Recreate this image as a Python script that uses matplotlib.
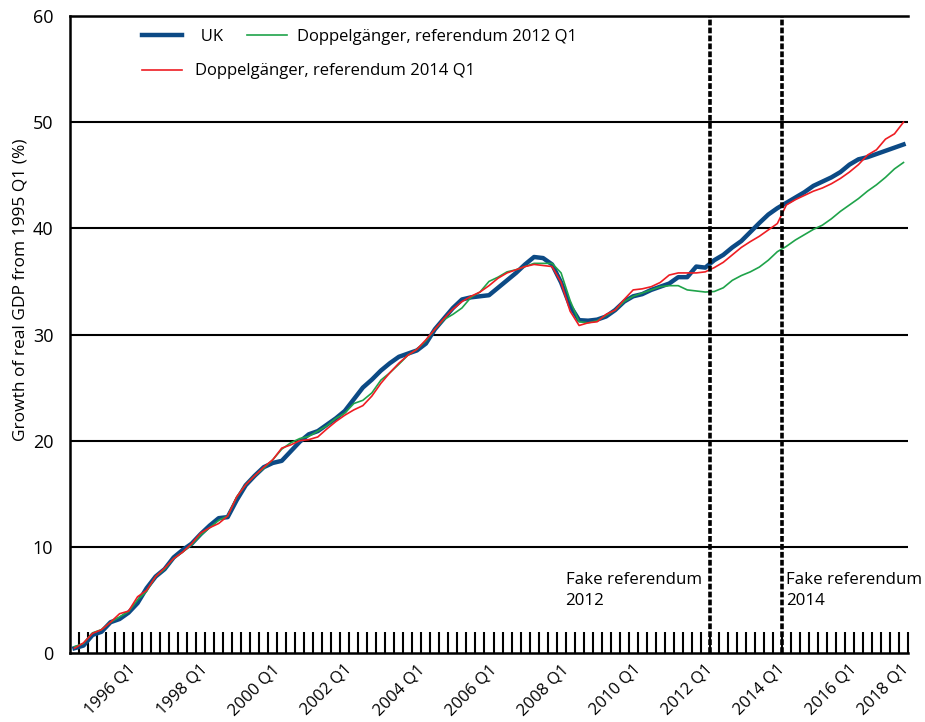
import matplotlib
matplotlib.use("Agg")
import matplotlib.pyplot as plt
import matplotlib.transforms as mtransforms
from matplotlib.ticker import FixedLocator, NullFormatter

plt.rcParams['font.family'] = ['Open Sans', 'DejaVu Sans']

# growth of real GDP since 1995 Q1 (%), one value per quarter 1995 Q1 .. 2018 Q1
uk = [0.45, 0.7, 1.7, 2.0, 2.9, 3.2, 3.8, 4.7, 6.1, 7.2,
      7.9, 9.0, 9.7, 10.3, 11.2, 12.0, 12.7, 12.8, 14.4, 15.8,
      16.7, 17.5, 17.9, 18.1, 19.0, 19.9, 20.6, 20.9, 21.5, 22.1,
      22.8, 23.9, 25.0, 25.75, 26.6, 27.3, 27.9, 28.2, 28.5, 29.15,
      30.5, 31.5, 32.5, 33.3, 33.5, 33.6, 33.7, 34.4, 35.1, 35.8,
      36.6, 37.3, 37.2, 36.6, 34.9, 32.7, 31.35, 31.3, 31.4, 31.7,
      32.3, 33.1, 33.6, 33.8, 34.2, 34.5, 34.8, 35.4, 35.4, 36.4,
      36.3, 37.0, 37.5, 38.2, 38.8, 39.65, 40.5, 41.3, 41.9, 42.4,
      42.9, 43.4, 44.0, 44.4, 44.8, 45.3, 46.0, 46.5, 46.7, 47.0,
      47.3, 47.6, 47.9]

dopp_2012 = [0.6, 0.9, 1.9, 2.2, 2.9, 3.4, 3.9, 5.0, 5.8, 7.2,
             7.9, 8.9, 9.5, 10.2, 11.1, 11.8, 12.5, 12.9, 14.7, 15.85,
             16.7, 17.4, 18.2, 19.2, 19.8, 20.2, 20.4, 20.9, 21.4, 22.1,
             22.6, 23.5, 23.8, 24.5, 25.7, 26.4, 27.2, 28.05, 28.6, 29.4,
             30.5, 31.4, 31.9, 32.5, 33.5, 34.0, 35.0, 35.4, 35.9, 36.1,
             36.4, 36.7, 36.7, 36.7, 35.8, 33.2, 31.2, 31.1, 31.3, 31.8,
             32.3, 33.1, 33.6, 33.9, 34.2, 34.5, 34.6, 34.6, 34.2, 34.1,
             34.0, 34.05, 34.4, 35.1, 35.55, 35.9, 36.35, 37.0, 37.8, 38.3,
             38.9, 39.4, 39.9, 40.3, 40.9, 41.6, 42.2, 42.8, 43.5, 44.1,
             44.8, 45.6, 46.2]

dopp_2014 = [0.45, 0.95, 1.85, 2.2, 2.9, 3.7, 3.95, 5.3, 5.9, 7.2,
             8.0, 8.9, 9.5, 10.3, 11.3, 11.8, 12.2, 12.9, 14.7, 15.85,
             16.7, 17.5, 18.2, 19.3, 19.6, 20.0, 20.1, 20.35, 21.1, 21.8,
             22.4, 22.9, 23.3, 24.2, 25.4, 26.4, 27.3, 28.05, 28.6, 29.5,
             30.5, 31.5, 32.4, 33.1, 33.6, 34.0, 34.6, 35.3, 35.8, 36.1,
             36.4, 36.6, 36.5, 36.4, 34.9, 32.2, 30.85, 31.1, 31.2, 31.9,
             32.3, 33.3, 34.2, 34.3, 34.5, 34.9, 35.6, 35.8, 35.8, 35.8,
             35.9, 36.3, 36.8, 37.5, 38.2, 38.75, 39.25, 39.85, 40.45, 42.2,
             42.7, 43.1, 43.5, 43.8, 44.2, 44.7, 45.3, 46.0, 46.9, 47.4,
             48.4, 48.9, 50.0]

quarters = [f"{1995 + q // 4} Q{q % 4 + 1}" for q in range(len(uk))]
label_years = [str(y) + " Q1" for y in range(1996, 2019, 2)]
fake_refs = [("Fake referendum\n2012", 70.5), ("Fake referendum\n2014", 78.5)]

x = list(range(len(uk)))

fig = plt.figure(figsize=(9.25, 7.22), dpi=100)
ax = fig.add_axes([70 / 925, 69 / 722, 838 / 925, 637 / 722])

l_uk, = ax.plot(x, uk, color='#0c4a85', linewidth=3.2, label='  UK', zorder=3)
l_12, = ax.plot(x, dopp_2012, color='#1fa34a', linewidth=1.2,
                label='Doppelgänger, referendum 2012 Q1', zorder=4)
l_14, = ax.plot(x, dopp_2014, color='#ee1d23', linewidth=1.2,
                label='Doppelgänger, referendum 2014 Q1', zorder=5)

for txt, pos in fake_refs:
    ax.axvline(pos, color='black', linewidth=2.6, linestyle=(0, (1.6, 0.6)), zorder=6)
ax.text(fake_refs[0][1] - 0.9, 7.6, fake_refs[0][0], ha='right', va='top',
        multialignment='left', fontsize=12.2, linespacing=1.35)
ax.text(fake_refs[1][1] + 0.5, 7.6, fake_refs[1][0], ha='left', va='top',
        fontsize=12.2, linespacing=1.35)

ax.set_xlim(-0.5, len(uk) - 0.5)
ax.set_ylim(0, 60)
ax.set_yticks(range(0, 61, 10))
for yv in range(10, 60, 10):
    ax.axhline(yv, color='black', linewidth=1.5, zorder=1)

ax.set_xticks([quarters.index(l) for l in label_years])
ax.set_xticklabels(label_years, rotation=45, ha='center', fontsize=12)
ax.xaxis.set_minor_locator(FixedLocator([k + 0.5 for k in range(len(uk))]))
ax.xaxis.set_minor_formatter(NullFormatter())
ax.tick_params(axis='x', which='major', length=0, pad=6)
ax.tick_params(axis='x', which='minor', direction='in', length=15, width=1.5, color='black')
ax.tick_params(axis='y', length=0, pad=12, labelsize=13)

# last label is pulled left so it stays inside the figure
last = ax.get_xticklabels()[-1]
last.set_transform(last.get_transform() +
                   mtransforms.ScaledTranslation(-0.2, 0, fig.dpi_scale_trans))

for side in ['left', 'bottom', 'top']:
    ax.spines[side].set_linewidth(1.8)
    ax.spines[side].set_color('black')
ax.spines['right'].set_visible(False)

ax.set_ylabel('Growth of real GDP from 1995 Q1 (%)', fontsize=12.5)
ax.yaxis.set_label_coords(-0.05, 0.57)

leg1 = ax.legend([l_uk, l_12], [l_uk.get_label(), l_12.get_label()], ncol=2,
                 loc='center left', bbox_to_anchor=(0.086, 0.967), frameon=False,
                 fontsize=12, handlelength=2.4, handletextpad=0.6, columnspacing=1.4,
                 borderpad=0, borderaxespad=0)
ax.add_artist(leg1)
ax.legend([l_14], [l_14.get_label()], loc='center left', bbox_to_anchor=(0.086, 0.913),
          frameon=False, fontsize=12, handlelength=2.4, handletextpad=0.8,
          borderpad=0, borderaxespad=0)

fig.savefig('out.png', dpi=100)
